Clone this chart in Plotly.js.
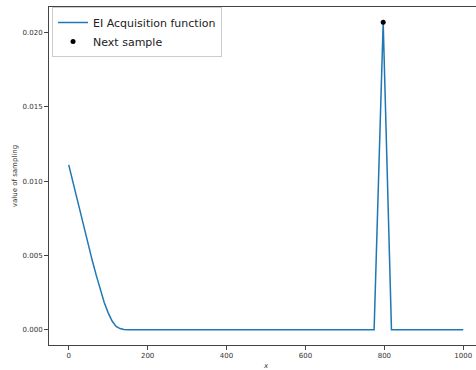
<!DOCTYPE html>
<html>
<head>
<meta charset="utf-8">
<script src="https://cdn.plot.ly/plotly-3.0.1.min.js"></script>
<style>
html,body{margin:0;padding:0;overflow:hidden;background:#fff;width:476px;height:370px;}
#chart{width:490px;height:370px;}
</style>
</head>
<body>
<div id="chart"></div>
<script>
// sample locations
var xs = [0, 10, 20, 30, 40, 50, 60, 70, 80, 90,
  100, 110, 120, 130, 140, 150, 300, 500, 700, 774,
  797, 818, 900, 1000];
// EI acquisition values
var eiValues = [0.0111, 0.0100, 0.00888, 0.00776, 0.00667, 0.00563, 0.00462, 0.00364, 0.00268, 0.00183,
  0.00113, 0.00058, 0.00022, 0.00007, 0.00001, 0, 0, 0, 0, 0,
  0.0207, 0, 0, 0];
var nextX = [797];
var nextY = [0.0207];
var xTicks = [0, 200, 400, 600, 800, 1000];
var yTicks = [0, 0.005, 0.010, 0.015, 0.020];
var yTickText = ['0.000', '0.005', '0.010', '0.015', '0.020'];

var traces = [
  {x: xs, y: eiValues, type: 'scatter', mode: 'lines', name: 'EI Acquisition function',
   line: {color: '#1f77b4', width: 1.5}},
  {x: nextX, y: nextY, type: 'scatter', mode: 'markers', name: 'Next sample',
   marker: {color: '#000', size: 5}}
];
var axisCommon = {
  showgrid: false, zeroline: false, showline: true, mirror: true,
  linecolor: '#444', linewidth: 1, ticks: 'outside', ticklen: 4, tickcolor: '#444',
  tickfont: {family: 'DejaVu Sans', size: 7, color: '#333'}
};
var layout = {
  width: 490, height: 370,
  margin: {l: 49, r: 7, t: 7, b: 25},
  paper_bgcolor: '#fff', plot_bgcolor: '#fff',
  showlegend: true,
  legend: {x: 0.007, y: 1.0, xanchor: 'left', yanchor: 'top',
    bgcolor: '#fff', bordercolor: '#ccc', borderwidth: 1,
    font: {family: 'DejaVu Sans', size: 11, color: '#222'}},
  xaxis: Object.assign({}, axisCommon, {
    range: [-50, 1050], tickvals: xTicks, ticktext: xTicks.map(String),
    title: {text: 'x', font: {family: 'DejaVu Sans', size: 7, color: '#333', style: 'italic'}, standoff: 4}
  }),
  yaxis: Object.assign({}, axisCommon, {
    range: [-0.001035, 0.021735], tickvals: yTicks, ticktext: yTickText,
    title: {text: 'value of sampling', font: {family: 'DejaVu Sans', size: 7, color: '#333'}, standoff: 4}
  })
};
Plotly.newPlot('chart', traces, layout, {displayModeBar: false, staticPlot: true});
</script>
</body>
</html>
